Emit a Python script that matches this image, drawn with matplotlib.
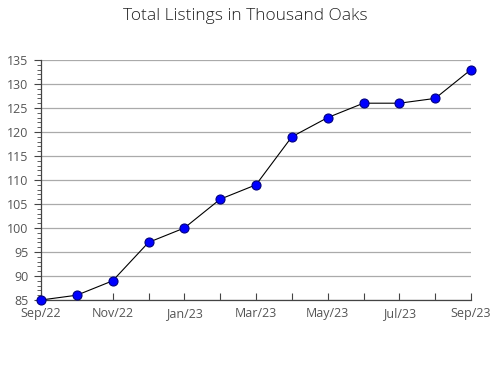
import matplotlib
matplotlib.use("Agg")
import matplotlib.pyplot as plt
from matplotlib.ticker import MultipleLocator

months = ["Sep/22", "Oct/22", "Nov/22", "Dec/22", "Jan/23", "Feb/23", "Mar/23",
          "Apr/23", "May/23", "Jun/23", "Jul/23", "Aug/23", "Sep/23"]
listings = [85, 86, 89, 97, 100, 106, 109, 119, 123, 126, 126, 127, 133]

plt.rcParams["font.family"] = ["Open Sans", "DejaVu Sans"]

fig = plt.figure(figsize=(4.9, 3.8), dpi=100)
ax = fig.add_axes([41 / 490, 1 - 300 / 380, 430 / 490, 240 / 380])

x = list(range(len(months)))
ax.plot(x, listings, color="black", linewidth=0.8, zorder=3)
ax.plot(x, listings, linestyle="none", marker="o", markersize=6.5,
        markerfacecolor="#0000ff", markeredgecolor="#000080",
        markeredgewidth=0.8, zorder=4, clip_on=False)

ax.set_xlim(0, len(months) - 1)
ax.set_ylim(85, 135)
ax.set_xticks(x)
ax.set_xticklabels([m if i % 2 == 0 else "" for i, m in enumerate(months)])
ax.yaxis.set_major_locator(MultipleLocator(5))
ax.yaxis.set_minor_locator(MultipleLocator(1))

ax.grid(axis="y", color="#aaaaaa", linewidth=0.9)
ax.set_axisbelow(True)
for s in ["top", "right"]:
    ax.spines[s].set_visible(False)
for s in ["left", "bottom"]:
    ax.spines[s].set_color("#444444")
    ax.spines[s].set_linewidth(0.9)

ax.tick_params(axis="x", direction="in", length=5, color="#444444",
               labelsize=9, labelcolor="#555555", pad=5)
ax.tick_params(axis="y", which="major", direction="out", length=5,
               color="#444444", labelsize=9, labelcolor="#555555", pad=4)
ax.tick_params(axis="y", which="minor", direction="out", length=3,
               color="#444444")

fig.text(0.5, 1 - 16 / 380, "Total Listings in Thousand Oaks", ha="center",
         va="center", fontsize=12.5, color="#222222", fontweight="light")

fig.savefig("out.png", dpi=100)
